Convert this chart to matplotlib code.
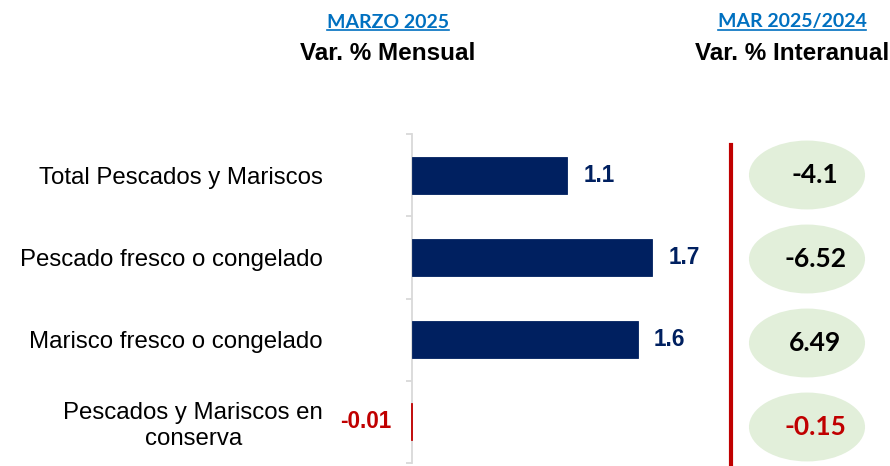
"""Pescados y mariscos: variación mensual e interanual (marzo 2025)."""

import matplotlib
matplotlib.use("Agg")
import matplotlib.pyplot as plt
from matplotlib.patches import Ellipse
from matplotlib.lines import Line2D

categories = [
    "Total Pescados y Mariscos",
    "Pescado fresco o congelado",
    "Marisco fresco o congelado",
    "Pescados y Mariscos en\nconserva",
]
monthly = [1.1, 1.7, 1.6, -0.01]
yearly = [-4.1, -6.52, 6.49, -0.15]

NAVY = "#002060"
RED = "#C00000"
BLUE = "#0070C0"
GREEN_BG = "#E2EFDA"
GRAY = "#D9D9D9"

W, H = 890, 466
fig = plt.figure(figsize=(W / 100, H / 100), dpi=100)

# main bar chart
ax = fig.add_axes([412 / W, 3 / H, 308 / W, 329 / H])
ypos = list(range(len(categories)))
bar_colors = [NAVY if v >= 0 else RED for v in monthly]
ax.barh(ypos, monthly, height=0.45, color=bar_colors, edgecolor=bar_colors,
        linewidth=0.6, clip_on=False, zorder=3)
ax.set_xlim(0, 2.18)
ax.set_ylim(3.5, -0.5)

for v, y, c in zip(monthly, ypos, bar_colors):
    off = 11.5 if v >= 0 else -13.5
    ax.annotate(str(v), (v, y), xytext=(off, 0), textcoords="offset points",
                ha="left" if v >= 0 else "right", va="center",
                fontsize=16.3, fontweight="bold", color=c,
                family="Liberation Sans", annotation_clip=False)

for s in ("top", "right", "bottom"):
    ax.spines[s].set_visible(False)
ax.spines["left"].set_color(GRAY)
ax.spines["left"].set_linewidth(1.3)
ax.set_xticks([])
ax.set_yticks(ypos)
ax.set_yticklabels(categories, fontsize=17.3, family="Liberation Sans")
for lab in ax.get_yticklabels():
    lab.set_multialignment("center")
ax.tick_params(axis="y", which="major", length=0, pad=64)
ax.set_yticks([-0.5, 0.5, 1.5, 2.5, 3.5], minor=True)
ax.tick_params(axis="y", which="minor", length=4.5, width=1.3, color=GRAY)

# interannual column
ax2 = fig.add_axes([731 / W, -3 / H, 159 / W, 336 / H])
ax2.set_xlim(0, 1)
ax2.set_ylim(3.5, -0.5)
ax2.axis("off")
ax2.axvline(0, ymin=0, ymax=0.965, color=RED, lw=3, clip_on=False)
inter_colors = ["black", "black", "black", RED]
for v, y, c in zip(yearly, ypos, inter_colors):
    ax2.add_patch(Ellipse((0.478, y), 0.73, 0.82, color=GREEN_BG, lw=0))
    ax2.text(0.53, y, str(v), ha="center", va="center", fontsize=19,
             fontweight="bold", color=c, family="Lato")

# headers
hdrs = []
for x, t1, t2 in [(388, "MARZO 2025", "Var. % Mensual"),
                  (792, "MAR 2025/2024", "Var. % Interanual")]:
    t = fig.text(x / W, 1 - 22 / H, t1, ha="center", va="center",
                 fontsize=14, fontweight="bold", color=BLUE, family="Lato")
    hdrs.append(t)
    fig.text(x / W, 1 - 54 / H, t2, ha="center", va="center",
             fontsize=17.5, fontweight="bold", color="black",
             family="Liberation Sans")

fig.canvas.draw()
r = fig.canvas.get_renderer()
for t in hdrs:
    bb = t.get_window_extent(r)
    yline = bb.y0 + 1
    fig.add_artist(Line2D([bb.x0 / W, bb.x1 / W], [yline / H, yline / H],
                          color=BLUE, lw=1.2, transform=fig.transFigure))

fig.savefig("out.png", dpi=100)
